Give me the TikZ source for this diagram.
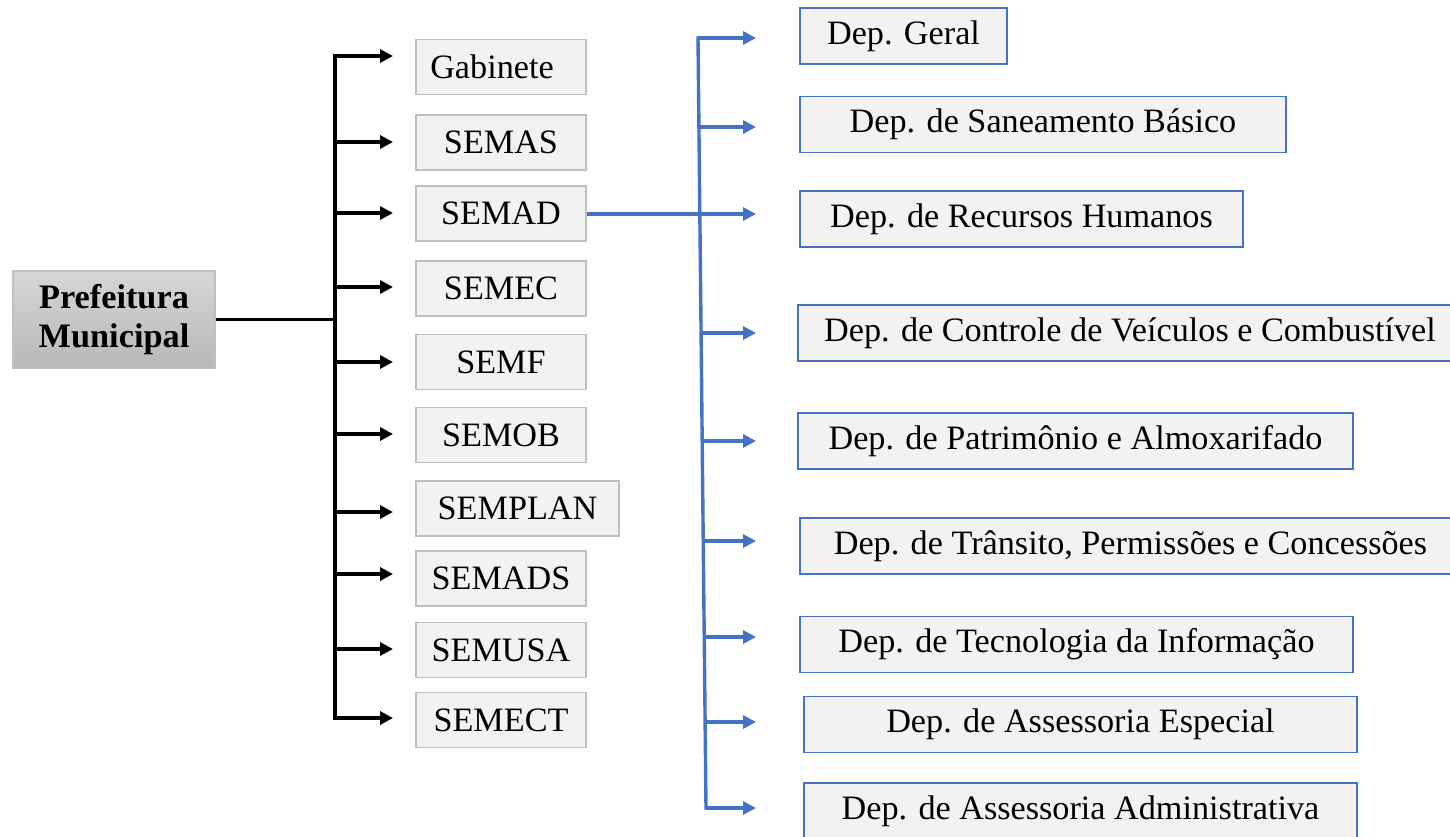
\documentclass[tikz,border=0pt]{standalone}
\usepackage{fontspec}
\setmainfont{Liberation Serif}
\usetikzlibrary{arrows.meta,calc}
\definecolor{boxfill}{HTML}{F2F2F2}
\definecolor{boxgray}{HTML}{BFBFBF}
\definecolor{blueline}{HTML}{4472C4}
\definecolor{topgray}{HTML}{D6D6D6}
\definecolor{botgray}{HTML}{B8B8B8}
\tikzset{
  secbox/.style={draw=boxgray, line width=1.8pt, fill=boxfill, inner sep=0pt, minimum height=55pt, font=\fontsize{34.2}{40}\selectfont},
  depbox/.style={draw=blueline, line width=1.8pt, fill=boxfill, inner sep=0pt, minimum height=56pt, font=\fontsize{34.2}{40}\selectfont},
  rootbox/.style={draw=boxgray, line width=1.6pt, top color=topgray, bottom color=botgray, inner sep=0pt, minimum width=202pt, minimum height=97pt, align=center, font=\fontsize{34.3}{39}\selectfont\bfseries},
  blackline/.style={line width=3.4pt, black, line cap=rect},
  blackarrow/.style={line width=3.4pt, black, -{Triangle[length=13pt,width=13pt]}},
  bluetrunk/.style={line width=3.4pt, blueline, line cap=rect},
  bluearrow/.style={line width=3.4pt, blueline, -{Triangle[length=13pt,width=13pt]}},
}
\begin{document}
\begin{tikzpicture}[x=1pt,y=-1pt]
\useasboundingbox[fill=white] (0,0) rectangle (1450,836);
% root
\node[rootbox] (root) at (114,319.5) {Prefeitura\\Municipal};
% secretarias
\node[secbox, minimum width=170pt] (gab) at (501,67) {Gabinete\hspace*{18pt}\mbox{}};
\node[secbox, minimum width=170pt] (semas) at (501,142.5) {SEMAS};
\node[secbox, minimum width=170pt] (semad) at (501,213.5) {SEMAD};
\node[secbox, minimum width=170pt] (semec) at (501,288.5) {SEMEC};
\node[secbox, minimum width=170pt] (semf) at (501,362) {SEMF};
\node[secbox, minimum width=170pt] (semob) at (501,435) {SEMOB};
\node[secbox, minimum width=203pt] (semplan) at (517.5,508.5) {SEMPLAN};
\node[secbox, minimum width=170pt] (semads) at (501,578.5) {SEMADS};
\node[secbox, minimum width=170pt] (semusa) at (501,650) {SEMUSA};
\node[secbox, minimum width=170pt] (semect) at (501,720) {SEMECT};
% black trunk
\coordinate (jt) at (335,56);
\coordinate (jb) at (335,718);
\coordinate (jm) at (335,319.5);
\draw[blackline] (jt) -- (jb);
\draw[line width=3.4pt] (root.east) -- (jm);
\foreach \n/\y in {gab/56,semas/142,semad/213,semec/287,semf/362,semob/434,semplan/512,semads/574,semusa/649,semect/718}{
  \coordinate (s\n) at (335,\y);
  \coordinate (e\n) at (393,\y);
  \draw[blackarrow] (s\n) -- (e\n);
}
% departamentos
\node[depbox, minimum width=207pt] (d1) at (903.5,36) {Dep. Geral};
\node[depbox, minimum width=486pt] (d2) at (1043,124.5) {Dep. de Saneamento Básico};
\node[depbox, minimum width=443pt] (d3) at (1021.5,219) {Dep. de Recursos Humanos};
\node[depbox, minimum width=664pt] (d4) at (1130,333) {Dep. de Controle de Veículos e Combustível};
\node[depbox, minimum width=555pt] (d5) at (1075.5,441) {Dep. de Patrimônio e Almoxarifado};
\node[depbox, minimum width=661pt] (d6) at (1130.5,546) {Dep. de Trânsito, Permissões e Concessões};
\node[depbox, minimum width=553pt] (d7) at (1076.5,644.5) {Dep. de Tecnologia da Informação};
\node[depbox, minimum width=553pt] (d8) at (1080.5,724.5) {Dep. de Assessoria Especial};
\node[depbox, minimum width=553pt] (d9) at (1080.5,811) {Dep. de Assessoria Administrativa};
% blue trunk
\coordinate (bt) at (698,38);
\coordinate (bb) at (706,808);
\draw[bluetrunk] (bt) -- (bb);
\coordinate (sm) at (699.8,214);
\draw[line width=3.4pt, blueline] (semad.east |- sm) -- (sm);
\foreach \n/\x/\y in {d1/698/38,d2/698.9/127,d3/699.8/214,d4/701.1/333,d5/702.2/441,d6/703.2/541,d7/704.2/637,d8/705.1/722,d9/706/808}{
  \coordinate (b\n) at (\x,\y);
  \coordinate (t\n) at (756,\y);
  \draw[bluearrow] (b\n) -- (t\n);
}
\end{tikzpicture}
\end{document}
